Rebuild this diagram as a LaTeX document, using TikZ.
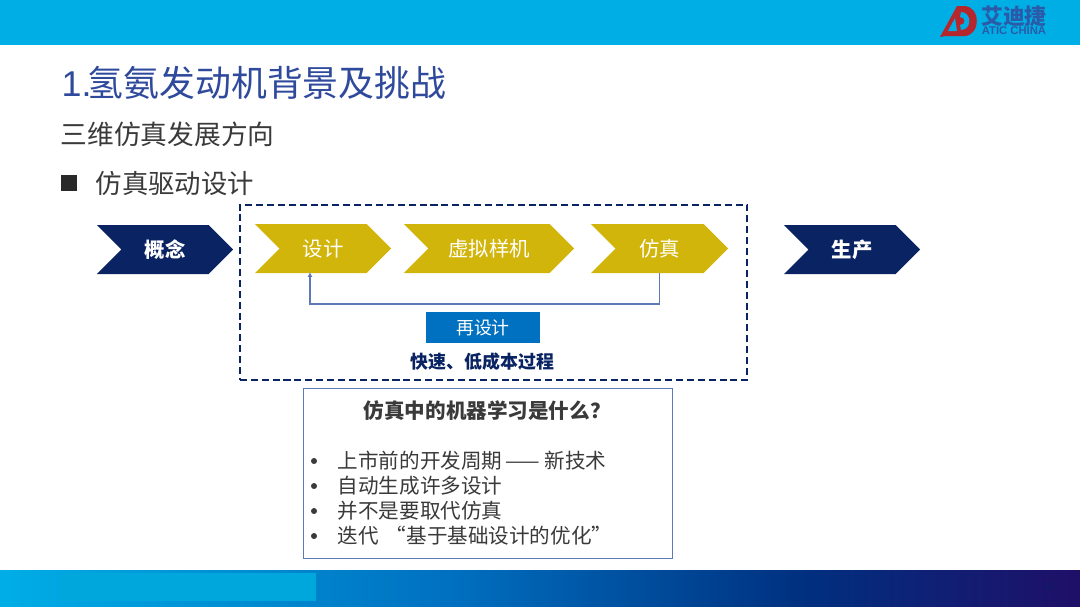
\documentclass[tikz,border=0pt]{standalone}
\usepackage{fontspec}
\setmainfont{Noto Sans CJK SC}
\newfontfamily\latinfont{Liberation Sans}
\usepackage{xcolor}
\usetikzlibrary{shapes.symbols,arrows.meta}
\definecolor{topblue}{HTML}{00AEE6}
\definecolor{navy}{HTML}{0A2463}
\definecolor{gold}{HTML}{D2B50A}
\definecolor{titleblue}{HTML}{2F4A9C}
\definecolor{textgray}{HTML}{3A3A3A}
\definecolor{midblue}{HTML}{0070C0}
\definecolor{deepblue}{HTML}{003080}
\definecolor{endblue}{HTML}{1F0F68}
\definecolor{linkblue}{HTML}{5F78B8}
\definecolor{logored}{HTML}{B5272D}
\definecolor{logoblue}{HTML}{2A5BA8}
\newcommand{\fs}[1]{\fontsize{#1}{#1}\selectfont}

\begin{document}
\begin{tikzpicture}[x=0.01cm, y=-0.01cm]
    \tikzstyle{chev}=[shape=signal,signal from=west,signal to=east,signal pointer angle=90,inner sep=0pt,outer sep=0pt,minimum height=0.49cm,text=white,font=\fs{5.8}];
    \tikzstyle{txt}=[inner sep=0pt,anchor=west];
    \tikzstyle{item}=[txt,text=textgray,font=\fs{5.85}];
    \tikzstyle{dot}=[shape=circle,inner sep=0pt,minimum size=0.06cm,fill=textgray];
    \useasboundingbox (0,0) rectangle (1080,608);
    \fill[white] (0,0) rectangle (1080,608);
    %bands
    \fill[topblue] (0,0) rectangle (1080,45);
    \shade[left color=topblue, right color=midblue] (0,570) rectangle (450,606);
    \shade[left color=midblue, right color=deepblue] (450,570) rectangle (800,606);
    \shade[left color=deepblue, right color=endblue] (800,570) rectangle (1080,606);
    \fill[topblue!96!black] (60,573) rectangle (316,601);
    \node[inner sep=0pt,text=navy,font=\latinfont\fs{2.6}] (page) at (1050,586) {12};
    %logo
    \fill[logored] (940,37) -- (957,6) -- (964,6) .. controls (981,6) and (981,36) .. (964,36) -- (946,36) -- cycle;
    \fill[topblue] (955,18) -- (948,31) -- (957,31) -- cycle;
    \fill[topblue] (961,12) .. controls (972,12) and (972,30) .. (961,30) -- (960,25) .. controls (966,25) and (966,17) .. (960,17) -- cycle;
    \node[inner sep=0pt,text=logoblue,font=\bfseries\fs{6.2}] (logocn) at (1014,16) {艾迪捷};
    \node[inner sep=0pt,text=logoblue,font=\latinfont\bfseries\fs{3.2}] (logoen) at (1014,31) {ATIC CHINA};
    %heading
    \node[txt,text=titleblue,font=\fs{10.2}] (title) at (61,83) {{\latinfont 1.}\hspace{-1.1pt}氢氨发动机背景及挑战};
    \node[txt,text=textgray,font=\fs{7.6}] (sub) at (60,134) {三维仿真发展方向};
    \fill[textgray!70!black] (61,175) rectangle (77,191);
    \node[txt,text=textgray,font=\fs{7.5}] (head) at (95,183) {仿真驱动设计};
    %process
    \node[draw=navy,dash pattern=on 2pt off 1.1pt,line width=0.55pt,minimum width=5.07cm,minimum height=1.75cm,inner sep=0pt] (fast) at (493.5,292.5) {};
    \node[chev,fill=navy,minimum width=1.36cm,font=\bfseries\fs{5.8}] (concept) at (165,249.5) {概念};
    \node[chev,fill=gold,minimum width=1.36cm] (design) at (323,248.5) {设计};
    \node[chev,fill=gold,minimum width=1.70cm] (proto) at (489,248.5) {虚拟样机};
    \node[chev,fill=gold,minimum width=1.37cm] (sim) at (659.5,248.5) {仿真};
    \node[chev,fill=navy,minimum width=1.36cm,font=\bfseries\fs{5.8}] (prod) at (852,249.5) {生产};
    \coordinate (turn) at (310,304);
    \coordinate (back) at (310,272);
    \draw[linkblue,line width=0.3pt,-{Latex[length=1.4pt,width=1.4pt]}] (sim.south) |- (turn) -- (back);
    \node[fill=midblue,text=white,font=\fs{5.1},minimum width=1.14cm,minimum height=0.31cm,inner sep=0pt] (redo) at (483,327.5) {再设计};
    \node[inner sep=0pt,text=navy,font=\bfseries\fs{5.1}] (note) at (482.5,362) {快速、低成本过程};
    %question box
    \node[draw=linkblue,line width=0.3pt,minimum width=3.68cm,minimum height=1.69cm,inner sep=0pt] (qbox) at (488,473.5) {};
    \node[txt,text=textgray,font=\bfseries\fs{5.85}] (qtitle) at (363,411) {仿真中的机器学习是什么？};
    \node[dot] (d1) at (314,461) {};
    \node[dot] (d2) at (314,486) {};
    \node[dot] (d3) at (314,511) {};
    \node[dot] (d4) at (314,536) {};
    \node[item] (i1) at (337,461) {上市前的开发周期\hspace{1pt}——\hspace{1.2pt}新技术};
    \node[item] (i2) at (337,486) {自动生成许多设计};
    \node[item] (i3) at (337,511) {并不是要取代仿真};
    \node[item] (i4) at (337,536) {迭代\hspace{2pt}“基于基础设计的优化”};
\end{tikzpicture}
\end{document}
